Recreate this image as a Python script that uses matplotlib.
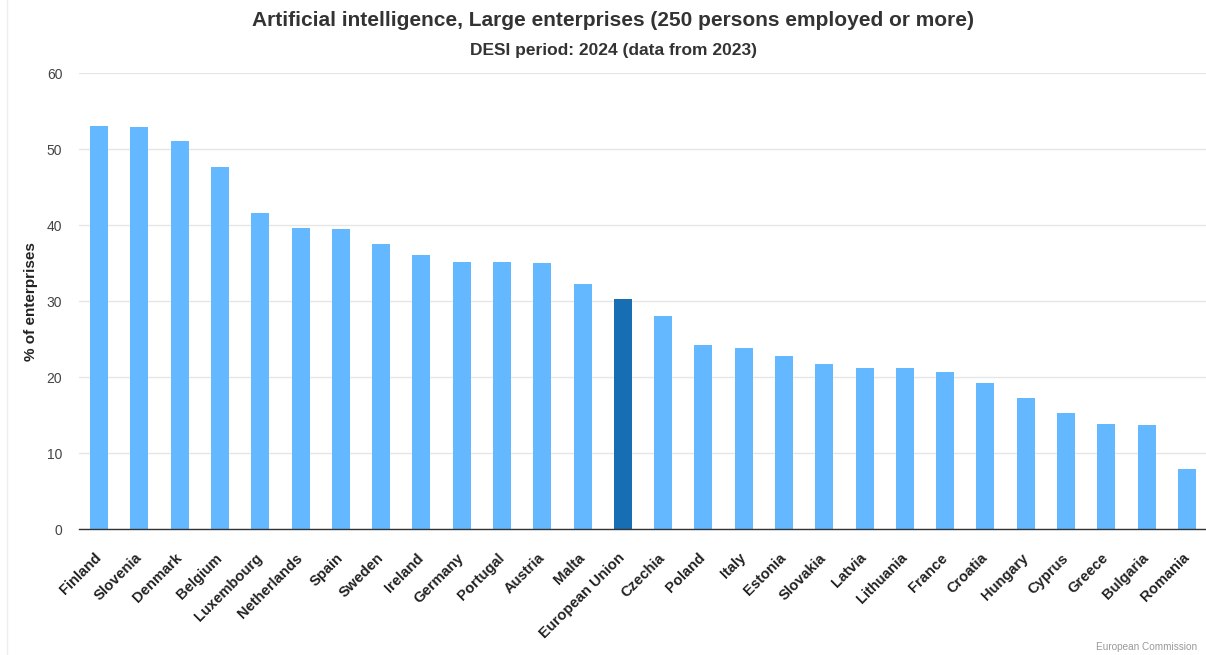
import matplotlib
matplotlib.use("Agg")
import matplotlib.pyplot as plt
from matplotlib.lines import Line2D

plt.rcParams['font.family'] = ['Liberation Sans', 'DejaVu Sans']

countries = ["Finland", "Slovenia", "Denmark", "Belgium", "Luxembourg", "Netherlands",
             "Spain", "Sweden", "Ireland", "Germany", "Portugal", "Austria", "Malta",
             "European Union", "Czechia", "Poland", "Italy", "Estonia", "Slovakia",
             "Latvia", "Lithuania", "France", "Croatia", "Hungary", "Cyprus", "Greece",
             "Bulgaria", "Romania"]
values = [53.1, 53.0, 51.1, 47.7, 41.6, 39.7, 39.5, 37.6, 36.1, 35.2, 35.2, 35.0, 32.3,
          30.3, 28.1, 24.2, 23.9, 22.8, 21.8, 21.2, 21.2, 20.7, 19.2, 17.3, 15.3, 13.8,
          13.7, 7.9]
highlight = "European Union"

y_ticks = [0, 10, 20, 30, 40, 50, 60]

light_blue = "#63b8ff"
dark_blue = "#176eb3"
colors = [dark_blue if c == highlight else light_blue for c in countries]

W, H = 1206, 655
fig = plt.figure(figsize=(W / 100, H / 100), dpi=100)
ax = fig.add_axes([79 / W, 1 - 529.3 / H, (1207 - 79) / W, (529.3 - 73.3) / H])

x = list(range(len(countries)))
ax.bar(x, values, width=0.45, color=colors, zorder=3)

ax.set_xlim(-0.5, len(countries) - 0.5)
ax.set_ylim(0, 60)
ax.set_yticks(y_ticks)
ax.set_yticklabels([str(t) for t in y_ticks], fontsize=10, color="#444444")
ax.tick_params(axis="y", length=0, pad=12)
ax.tick_params(axis="x", length=0, pad=19)
ax.set_xticks(x)
ax.set_xticklabels(countries, rotation=45, ha="right", va="center", rotation_mode="anchor",
                   fontsize=10.6, fontweight="bold", color="#222222")

ax.grid(axis="y", color="#e6e6e6", linewidth=1, zorder=0)
for side in ["top", "right", "left"]:
    ax.spines[side].set_visible(False)
ax.spines["bottom"].set_color("#333333")
ax.spines["bottom"].set_linewidth(1)
ax.spines["bottom"].set_zorder(4)

ax.set_ylabel("% of enterprises", fontsize=11, fontweight="bold", color="#222222", labelpad=6.5)

fig.text(613 / W, 1 - 21 / H, "Artificial intelligence, Large enterprises (250 persons employed or more)",
         ha="center", va="center", fontsize=15, fontweight="bold", color="#333333")
fig.text(613 / W, 1 - 50 / H, "DESI period: 2024 (data from 2023)",
         ha="center", va="center", fontsize=12.5, fontweight="bold", color="#333333")
fig.text(1197 / W, 1 - 647 / H, "European Commission", ha="right", va="center",
         fontsize=7.2, color="#999999")

fig.add_artist(Line2D([7 / W, 7 / W], [0, 1], color="#eeeeee", linewidth=1))

fig.savefig("out.png", dpi=100, facecolor="white")
